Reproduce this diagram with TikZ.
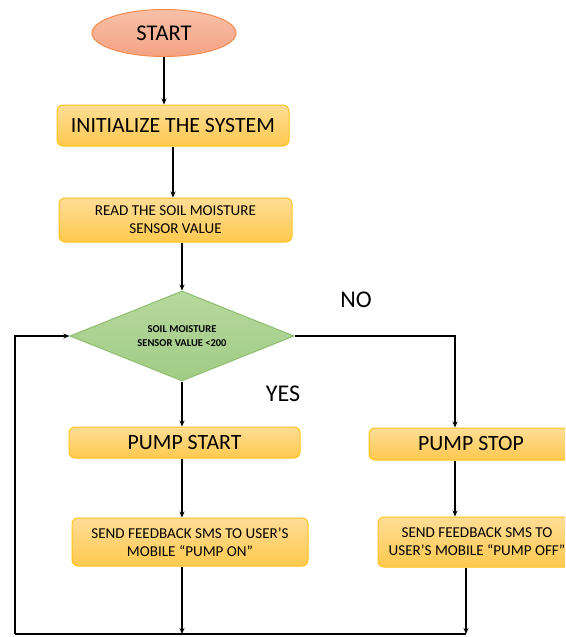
\documentclass[tikz,border=0pt]{standalone}
\usepackage{fontspec}
\setmainfont{Carlito}
\usetikzlibrary{shapes.geometric,arrows.meta}
\definecolor{termtop}{HTML}{F8C0A8}
\definecolor{termbot}{HTML}{F4A283}
\definecolor{termline}{HTML}{F08C50}
\definecolor{boxtop}{HTML}{FFDD96}
\definecolor{boxbot}{HTML}{FFC94F}
\definecolor{boxline}{HTML}{FFC21A}
\definecolor{dectop}{HTML}{B6D99E}
\definecolor{decbot}{HTML}{A1CB85}
\definecolor{decline}{HTML}{8CBE6B}

\begin{document}
\begin{tikzpicture}[x=1pt, y=1pt,
  terminal/.style={ellipse, draw=termline, line width=1pt, top color=termtop, bottom color=termbot,
    minimum width=144pt, minimum height=47pt, inner sep=0pt, font=\fontsize{22.5}{26}\selectfont},
  process/.style={rectangle, rounded corners=6pt, draw=boxline, line width=1pt, top color=boxtop,
    bottom color=boxbot, inner sep=0pt, align=center},
  bigtext/.style={font=\fontsize{21.8}{26}\selectfont},
  smalltext/.style={font=\fontsize{15.1}{18}\selectfont},
  decision/.style={diamond, aspect=2.5, draw=decline, line width=1pt, top color=dectop, bottom color=decbot,
    minimum width=224pt, minimum height=90pt, inner sep=0pt, align=center,
    font=\bfseries\fontsize{10.5}{13.5}\selectfont},
  answer/.style={font=\fontsize{24}{28}\selectfont},
  flow/.style={-{Stealth[length=6pt,width=5pt]}, line width=1.2pt},
  loopline/.style={line width=1.4pt}
]
\useasboundingbox (0,0) rectangle (565,-637);
\clip (0,0) rectangle (565,-637);

% main column
\node[terminal] (start) at (164,-33) {START};
\node[process, bigtext, minimum width=232pt, minimum height=41pt] (init) at (173,-125.5) {INITIALIZE THE SYSTEM};
\node[process, smalltext, minimum width=233pt, minimum height=44pt] (read) at (175.5,-220) {READ THE SOIL MOISTURE\\SENSOR VALUE};
\node[decision] (check) at (182,-336) {SOIL MOISTURE\\SENSOR VALUE <200};

% yes / no branches
\node[process, bigtext, minimum width=231pt, minimum height=31pt] (pumpon) at (184.5,-442.5) {PUMP START};
\node[process, smalltext, minimum width=236pt, minimum height=48pt] (smson) at (190,-542) {SEND FEEDBACK SMS TO USER’S\\MOBILE “PUMP ON”};
\node[process, bigtext, minimum width=204pt, minimum height=32pt] (pumpoff) at (471,-444) {PUMP STOP};
\node[process, smalltext, minimum width=198pt, minimum height=50pt] (smsoff) at (477,-542) {SEND FEEDBACK SMS TO\\USER’S MOBILE “PUMP OFF”};

\node[answer] (nolabel) at (356,-300) {NO};
\node[answer] (yeslabel) at (283,-394) {YES};

\coordinate (base) at (15,-634);
\coordinate (noturn) at ([xshift=-16pt]pumpoff.north);
\coordinate (offdrop) at ([xshift=-11pt]smsoff.south);

\draw[flow] (start.south) -- (start.south |- init.north);
\draw[flow] (init.south) -- (init.south |- read.north);
\draw[flow] (check.north |- read.south) -- (check.north);
\draw[flow] (check.south) -- (check.south |- pumpon.north);
\draw[flow] (check.south |- pumpon.south) -- (check.south |- smson.north);
\draw[flow] (check.south |- smson.south) -- (check.south |- base);
\draw[flow] (check.east) -| (noturn);
\draw[flow] (noturn |- pumpoff.south) -- (noturn |- smsoff.north);
\draw[flow] (offdrop) -- (offdrop |- base);
\draw[loopline] (offdrop |- base) -- (base);
\draw[flow] (base) |- (check.west);
\end{tikzpicture}
\end{document}
